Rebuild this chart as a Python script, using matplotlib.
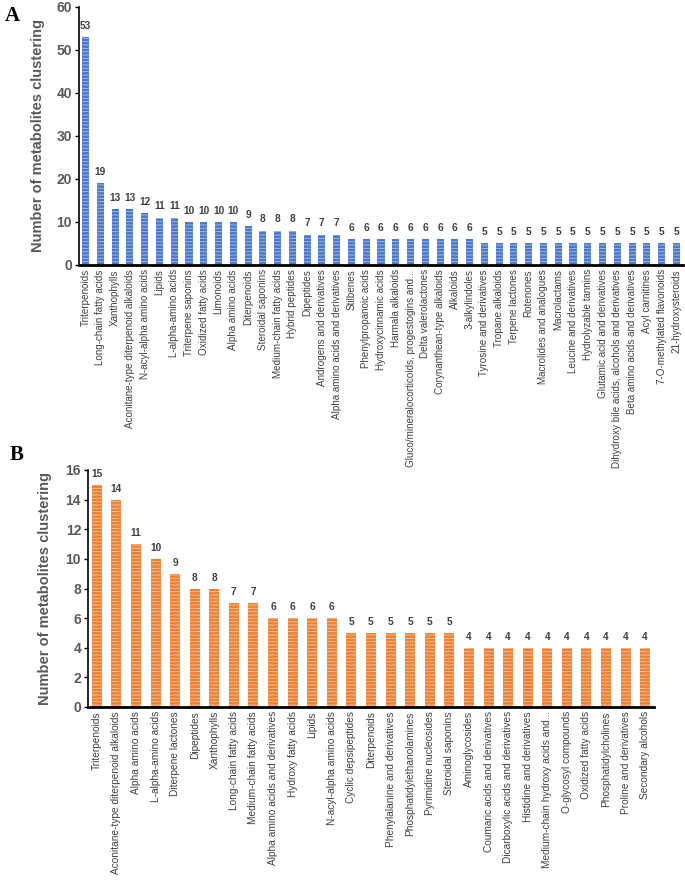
import matplotlib
matplotlib.use("Agg")
import matplotlib.pyplot as plt
import numpy as np

plt.rcParams['hatch.linewidth'] = 0.6

cats_a = ["Triterpenoids", "Long-chain fatty acids", "Xanthophylls",
          "Aconitane-type diterpenoid alkaloids", "N-acyl-alpha amino acids", "Lipids",
          "L-alpha-amino acids", "Triterpene saponins", "Oxidized fatty acids", "Limonoids",
          "Alpha amino acids", "Diterpenoids", "Steroidal saponins", "Medium-chain fatty acids",
          "Hybrid peptides", "Dipeptides", "Androgens and derivatives",
          "Alpha amino acids and derivatives", "Stilbenes", "Phenylpropanoic acids",
          "Hydroxycinnamic acids", "Harmala alkaloids",
          "Gluco/mineralocorticoids, progestogins and...", "Delta valerolactones",
          "Corynanthean-type alkaloids", "Alkaloids", "3-alkylindoles",
          "Tyrosine and derivatives", "Tropane alkaloids", "Terpene lactones", "Rotenones",
          "Macrolides and analogues", "Macrolactams", "Leucine and derivatives",
          "Hydrolyzable tannins", "Glutamic acid and derivatives",
          "Dihydroxy bile acids, alcohols and derivatives", "Beta amino acids and derivatives",
          "Acyl carnitines", "7-O-methylated flavonoids", "21-hydroxysteroids"]
vals_a = [53, 19, 13, 13, 12, 11, 11, 10, 10, 10, 10, 9, 8, 8, 8, 7, 7, 7,
          6, 6, 6, 6, 6, 6, 6, 6, 6,
          5, 5, 5, 5, 5, 5, 5, 5, 5, 5, 5, 5, 5, 5]

cats_b = ["Triterpenoids", "Aconitane-type diterpenoid alkaloids", "Alpha amino acids",
          "L-alpha-amino acids", "Diterpene lactones", "Dipeptides", "Xanthophylls",
          "Long-chain fatty acids", "Medium-chain fatty acids",
          "Alpha amino acids and derivatives", "Hydroxy fatty acids", "Lipids",
          "N-acyl-alpha amino acids", "Cyclic depsipeptides", "Diterpenoids",
          "Phenylalanine and derivatives", "Phosphatidylethanolamines",
          "Pyrimidine nucleosides", "Steroidal saponins", "Aminoglycosides",
          "Coumaric acids and derivatives", "Dicarboxylic acids and derivatives",
          "Histidine and derivatives", "Medium-chain hydroxy acids and...",
          "O-glycosyl compounds", "Oxidized fatty acids", "Phosphatidylcholines",
          "Proline and derivatives", "Secondary alcohols"]
vals_b = [15, 14, 11, 10, 9, 8, 8, 7, 7, 6, 6, 6, 6, 5, 5, 5, 5, 5, 5,
          4, 4, 4, 4, 4, 4, 4, 4, 4, 4]

yticks_a = [0, 10, 20, 30, 40, 50, 60]
yticks_b = [0, 2, 4, 6, 8, 10, 12, 14, 16]

SANS = ['Liberation Sans', 'DejaVu Sans']
GRAY = '#595959'
DARK = '#404040'

fig = plt.figure(figsize=(6.85, 8.83), dpi=100)


def panel(rect, cats, vals, yticks, face, hatchc, width, letter, letter_xy, ylab_x, catsize):
    ax = fig.add_axes(rect)
    x = np.arange(len(cats))
    ax.bar(x, vals, width=width, color=face, edgecolor=hatchc, linewidth=0,
           hatch='-----')
    for xi, v in zip(x, vals):
        ax.text(xi, v + yticks[-1] * 0.025, str(v), ha='center', va='bottom',
                fontsize=7.3, fontweight='bold', color=DARK, family=SANS)
    ax.set_xlim(-0.45, len(cats) - 0.55)
    ax.set_ylim(0, yticks[-1])
    ax.set_yticks(yticks)
    ax.set_yticklabels([str(t) for t in yticks], fontsize=10, fontweight='bold',
                       color=GRAY, family=SANS)
    ax.set_xticks(x)
    ax.set_xticklabels(cats, rotation=90, fontsize=catsize, color=DARK, family=SANS)
    ax.tick_params(axis='x', length=0, pad=3)
    ax.tick_params(axis='y', length=3, width=1, direction='out', pad=2)
    for s in ['top', 'right']:
        ax.spines[s].set_visible(False)
    ax.spines['left'].set_linewidth(1.2)
    ax.spines['bottom'].set_linewidth(2)
    ax.set_ylabel('Number of metabolites clustering', fontsize=10.5, fontweight='bold',
                  color=GRAY, family=SANS)
    ax.yaxis.set_label_coords(ylab_x, 0.5)
    fig.text(letter_xy[0], letter_xy[1], letter, fontsize=15, fontweight='bold',
             family=['Liberation Serif', 'DejaVu Serif'], ha='left', va='center')
    return ax


panel([79 / 685, 1 - 265 / 883, (683 - 79) / 685, (265 - 7) / 883],
      cats_a, vals_a, yticks_a, '#4a78cf', '#a8c0ec', 0.48, 'A', (5 / 685, 1 - 16 / 883),
      -0.057, 7.1)
panel([88 / 685, 1 - 707 / 883, (654 - 88) / 685, (707 - 470) / 883],
      cats_b, vals_b, yticks_b, '#f08033', '#f9c49c', 0.51, 'B', (10 / 685, 1 - 455 / 883),
      -0.063, 7.3)

fig.savefig('out.png', dpi=100)
